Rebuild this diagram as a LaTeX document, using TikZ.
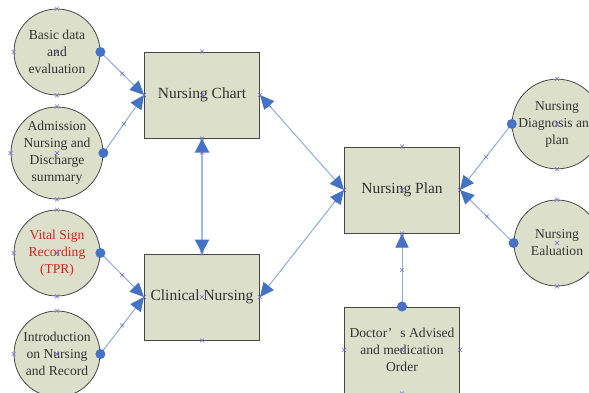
\documentclass[tikz,border=0pt]{standalone}
\usepackage{fontspec}
\setmainfont{Liberation Serif}
\usetikzlibrary{arrows.meta,calc}
\definecolor{shapefill}{HTML}{DCE0CB}
\definecolor{edgeblue}{HTML}{8EABDB}
\definecolor{railblue}{HTML}{A3BADF}
\definecolor{tipblue}{HTML}{4472C4}
\definecolor{markblue}{HTML}{6A6AD0}
\definecolor{inktext}{HTML}{333333}
\definecolor{alertred}{HTML}{E0201E}
\begin{document}
\begin{tikzpicture}[x=1pt,y=-1pt,
  topic/.style={circle, draw=black!72, line width=0.8pt, fill=shapefill,
    minimum size=86pt, inner sep=0pt, align=center, text=inktext,
    font=\fontsize{13.6}{17}\selectfont},
  stepbox/.style={rectangle, draw=black!72, line width=1pt, fill=shapefill,
    minimum width=115pt, minimum height=86pt, inner sep=0pt, align=center,
    text=inktext, font=\fontsize{15.5}{17}\selectfont},
  link/.style={draw=edgeblue, line width=1pt, -{Triangle[length=14pt,width=13pt,color=tipblue]}},
  twoway/.style={draw=edgeblue, line width=1pt,
    {Triangle[length=14pt,width=13pt,color=tipblue]}-{Triangle[length=14pt,width=13pt,color=tipblue]}},
  hub/.style={circle, fill=tipblue, minimum size=10pt, inner sep=0pt},
  cm/.pic={\draw[markblue, line width=0.5pt] (-2,-2) -- (2,2) (-2,2) -- (2,-2);}
]
\useasboundingbox (0,0) rectangle (589,392);
\clip (0,0) rectangle (589,392);

% left column of topics
\node[topic] (basic) at (57,52) {Basic data\\and\\evaluation};
\node[topic] (admit) at (57,153) {Admission\\Nursing and\\Discharge\\summary};
\node[topic, text=alertred] (vital) at (57,253) {Vital Sign\\Recording\\(TPR)};
\node[topic] (intro) at (57,354) {Introduction\\on Nursing\\and Record};

% central boxes
\node[stepbox] (chart) at (202,95) {Nursing Chart};
\node[stepbox] (clin) at (202,297) {Clinical Nursing};
\node[stepbox] (plan) at (402,190) {Nursing Plan};
\node[stepbox, font=\fontsize{13.6}{17}\selectfont] (doc) at (402,350)
  {Doctor’\hspace{0.6em}s Advised\\and medication\\Order};

% right column of topics
\node[topic] (diag) at (557,124) {Nursing\\Diagnosis and\\plan};
\node[topic] (eval) at (557,243) {Nursing\\Ealuation};

% connectors
\draw[link] (basic.east) -- (chart.west);
\draw[link] (admit.east) -- (chart.west);
\draw[link] (vital.east) -- (clin.west);
\draw[link] (intro.east) -- (clin.west);
\draw[link] (diag.west) -- (plan.east);
\draw[link] (eval.west) -- (plan.east);
\draw[link] (doc.north) -- (plan.south);
\draw[twoway] (chart.east) -- (plan.west);
\draw[twoway] (clin.east) -- (plan.west);
\draw[draw=railblue, line width=2pt,
  {Triangle[length=14pt,width=14pt,color=tipblue]}-{Triangle[length=14pt,width=14pt,color=tipblue]}]
  (chart.south) -- (clin.north);

% start dots
\foreach \s/\a in {basic/east, admit/east, vital/east, intro/east, diag/west, eval/west, doc/north}
  \node[hub] (\s dot) at (\s.\a) {};

% connection points
\foreach \s in {basic, admit, vital, intro, diag, eval}
  \path (\s.north) pic {cm} (\s.south) pic {cm} (\s.center) pic {cm} (\s.west) pic {cm};
\foreach \s in {chart, clin, plan, doc}
  \path (\s.north) pic {cm} (\s.south) pic {cm} (\s.center) pic {cm}
        (\s.west) pic {cm} (\s.east) pic {cm};
\foreach \a/\b in {basic.east/chart.west, admit.east/chart.west,
                   vital.east/clin.west, intro.east/clin.west,
                   diag.west/plan.east, eval.west/plan.east, doc.north/plan.south}
  \path ($(\a)!0.5!(\b)$) pic {cm};
\path ($(chart.east)!14pt!(plan.west)$) pic {cm}
      ($(plan.west)!14pt!(clin.east)$) pic {cm}
      ($(chart.south)!14pt!(clin.north)$) pic {cm};
\end{tikzpicture}
\end{document}
